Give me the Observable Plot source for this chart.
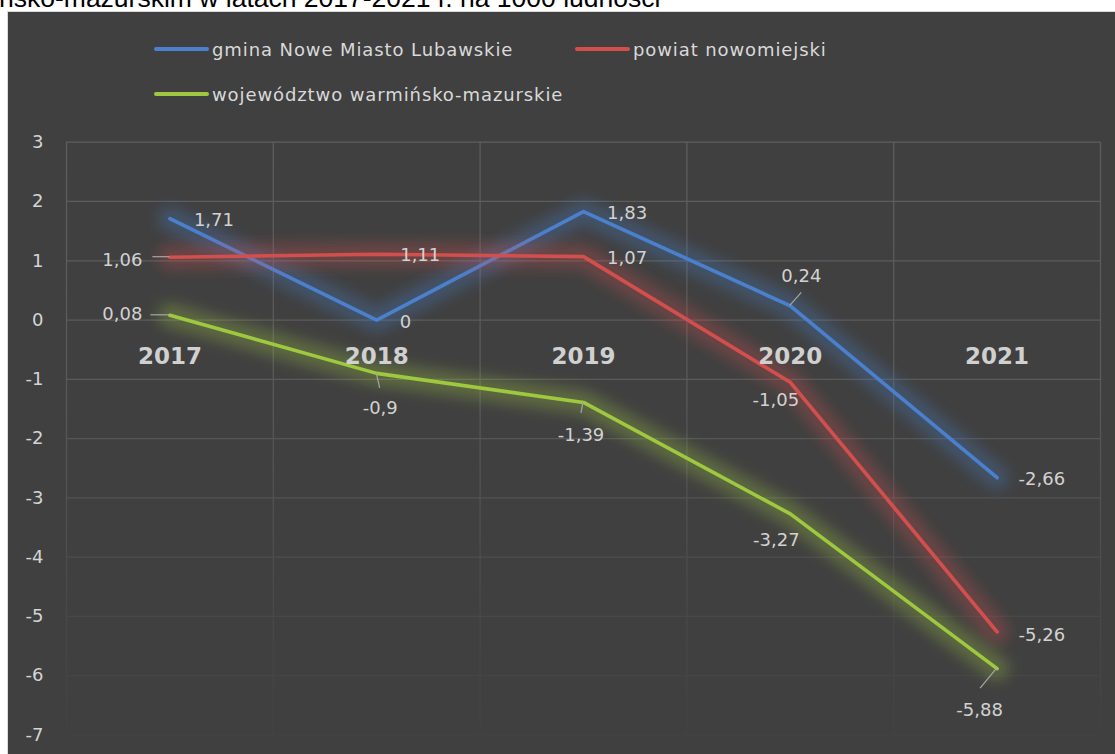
<!DOCTYPE html>
<html><head><meta charset="utf-8">
<script src="https://cdn.jsdelivr.net/npm/d3@7"></script>
<script src="https://cdn.jsdelivr.net/npm/@observablehq/plot@0.6"></script>
<style>
html,body{margin:0;padding:0;background:#fff;width:1115px;height:754px;overflow:hidden;}
#title{position:absolute;left:0;top:0;width:1115px;height:11px;overflow:hidden;}
#title span{position:absolute;left:-1px;top:-15px;font:26.5px/26.5px "Liberation Sans",Arial,sans-serif;color:#000;white-space:nowrap;}
#box{position:absolute;left:7px;top:11px;width:1108px;height:743px;border-left:1px solid #d9d9d9;border-top:1px solid #d9d9d9;background:#404040;box-sizing:border-box;}
#chart{position:absolute;left:0;top:0;}
.legrow{position:absolute;left:146px;display:flex;align-items:center;height:22px;}
.legitem{display:flex;align-items:center;}
.sw{width:55px;height:4px;border-radius:2px;margin-right:3px;}
.lt{font:18px "DejaVu Sans",sans-serif;letter-spacing:0.9px;color:#d9d9d9;white-space:nowrap;}
</style></head>
<body>
<div id="title"><span>ńsko-mazurskim w latach 2017-2021 r. na 1000 ludności</span></div>
<div id="box"><div id="chart"></div><div id="legend"></div></div>
<script>
const years = [2017, 2018, 2019, 2020, 2021];
const seriesNames = ["gmina Nowe Miasto Lubawskie", "powiat nowomiejski", "województwo warmińsko-mazurskie"];
const seriesColors = ["#4a80ce", "#d24f4d", "#9ec93e"];
const gmina = [1.71, 0, 1.83, 0.24, -2.66];
const powiat = [1.06, 1.11, 1.07, -1.05, -5.26];
const wojewodztwo = [0.08, -0.9, -1.39, -3.27, -5.88];
const yTicks = [3, 2, 1, 0, -1, -2, -3, -4, -5, -6, -7];
// label placement (px offsets): [dx, dy, anchor, leaderDx, leaderDy]
const labelOffsets = [
  [[24, 2, "start"], [23, 2, "start"], [23.5, 2, "start"], [11, -30, "middle", 11.5, -13], [21.5, 2, "start"]],
  [[-27.5, 3, "end", -17, 0], [23.5, 1, "start"], [23.5, 1.5, "start"], [-14.5, 18, "middle"], [21.5, 3, "start"]],
  [[-27.5, -1, "end", -19, 0], [3.5, 34.5, "middle", 3.5, 15], [-2.5, 32.5, "middle", -2, 11], [-14, 26.5, "middle"], [-17.5, 41.5, "middle", -16.5, 20]]
];

const seriesValues = [gmina, powiat, wojewodztwo];
const rows = [];
seriesValues.forEach((vals, i) => vals.forEach((v, j) => {
  const o = labelOffsets[i][j];
  rows.push({series: i, year: years[j], value: v, dx: o[0], dy: o[1], anchor: o[2], ldx: o[3], ldy: o[4]});
}));
const bounds = [years[0] - 0.5, ...years.map(y => y + 0.5)];
const fmt = v => String(v).replace(".", ",");

const W = 1107, H = 742;
const GLOW_W = 24, GRID_W = 1.25;
const marks = [
  Plot.ruleY(yTicks, {stroke: "#5c5c5c", strokeWidth: GRID_W}),
  Plot.ruleX(bounds, {stroke: "#5c5c5c", strokeWidth: GRID_W})
];
seriesValues.forEach((vals, i) => {
  const d = rows.filter(r => r.series === i);
  marks.push(Plot.line(d, {x: "year", y: "value", stroke: seriesColors[i], strokeWidth: GLOW_W, strokeOpacity: 0.3, strokeLinecap: "round", strokeLinejoin: "round"}));
  marks.push(Plot.line(d, {x: "year", y: "value", stroke: seriesColors[i], strokeWidth: 3.6, strokeLinecap: "round", strokeLinejoin: "round"}));
});
marks.push(Plot.text(years, {x: d => d, y: () => 0, text: d => String(d), dy: 37, fontWeight: "bold", fontSize: 23, fill: "#d0d0d0"}));
rows.forEach(r => {
  marks.push(Plot.text([r], {x: "year", y: "value", text: d => fmt(d.value), dx: r.dx, dy: r.dy, textAnchor: r.anchor, fontSize: 18, fill: "#d2d2d2"}));
});

const chart = Plot.plot({
  width: W, height: H,
  marginLeft: 58, marginRight: 15, marginTop: 129.7, marginBottom: 19.5,
  style: {background: "transparent", color: "#d4d4d4", fontFamily: "DejaVu Sans, sans-serif", fontSize: "18px"},
  x: {domain: [bounds[0], bounds[bounds.length - 1]], axis: null},
  y: {domain: [-7, 3], ticks: yTicks, tickSize: 0, tickPadding: 23, tickFormat: d => String(d), label: null},
  marks
});
document.getElementById("chart").appendChild(chart);

// post-styling: glow blur, gridline fade, leader lines via plot scales
const svg = d3.select(chart);
const xs = chart.scale("x"), ys = chart.scale("y");
const defs = svg.insert("defs", ":first-child");
defs.append("filter").attr("id", "glowBlur").attr("filterUnits", "userSpaceOnUse")
  .attr("x", 0).attr("y", 0).attr("width", W).attr("height", H)
  .append("feGaussianBlur").attr("stdDeviation", 7);
const grad = defs.append("linearGradient").attr("id", "gridFade").attr("gradientUnits", "userSpaceOnUse")
  .attr("x1", 0).attr("x2", 0).attr("y1", ys.apply(3)).attr("y2", ys.apply(-7));
[[0, "#5e5e5e"], [0.4, "#5a5a5a"], [0.6, "#525252"], [0.8, "#484848"], [1, "#424242"]].forEach(([o, c]) =>
  grad.append("stop").attr("offset", o).attr("stop-color", c));
svg.selectAll("g").filter(function() { return this.getAttribute("stroke-width") == String(GLOW_W); })
  .attr("filter", "url(#glowBlur)");
const gridGroups = svg.selectAll("g").filter(function() { return this.getAttribute("stroke-width") == String(GRID_W); });
gridGroups.attr("stroke", "url(#gridFade)");
gridGroups.selectAll("line").attr("stroke", null);

const lg = svg.append("g").attr("stroke", "#a6a6a6").attr("stroke-width", 1.2);
rows.filter(r => r.ldx !== undefined).forEach(r => {
  const px = xs.apply(r.year), py = ys.apply(r.value);
  lg.append("line").attr("x1", px).attr("y1", py).attr("x2", px + r.ldx).attr("y2", py + r.ldy);
});

// legend
const legend = document.getElementById("legend");
const legendRows = [[0, 1], [2]];
const rowTops = [26, 71];
legendRows.forEach((idxs, ri) => {
  const row = document.createElement("div");
  row.className = "legrow";
  row.style.top = rowTops[ri] + "px";
  idxs.forEach((i, k) => {
    const it = document.createElement("div");
    it.className = "legitem";
    if (k === 0 && idxs.length > 1) it.style.width = "421px";
    const sw = document.createElement("div");
    sw.className = "sw"; sw.style.background = seriesColors[i];
    const t = document.createElement("span");
    t.className = "lt"; t.textContent = seriesNames[i];
    it.appendChild(sw); it.appendChild(t);
    row.appendChild(it);
  });
  legend.appendChild(row);
});
</script>
</body></html>
